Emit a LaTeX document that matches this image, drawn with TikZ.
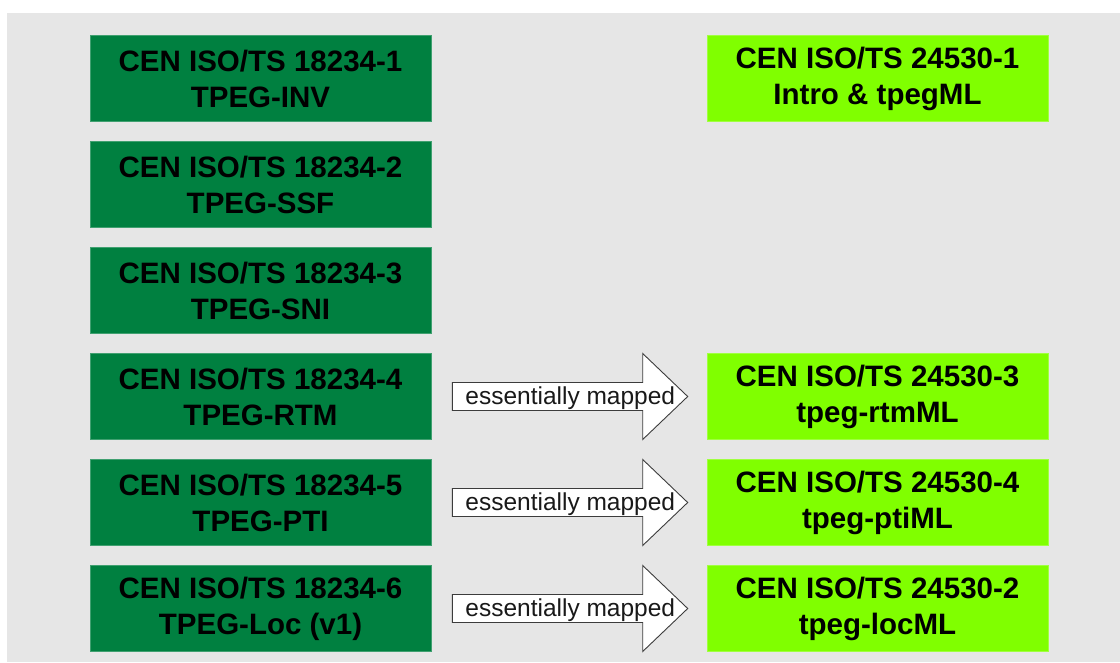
\documentclass[tikz,border=0pt]{standalone}
\usepackage{fontspec}
\setmainfont{Liberation Sans}
\usetikzlibrary{calc}
\definecolor{bggray}{RGB}{230,230,230}
\definecolor{dkgreen}{RGB}{0,128,64}
\definecolor{ltgreen}{RGB}{128,255,0}
\definecolor{arrowline}{RGB}{60,60,60}
\tikzset{
  stdbox/.style={minimum width=341pt, minimum height=86pt, inner sep=0pt, align=center,
    font=\fontsize{29.5}{36}\selectfont\bfseries, text=black},
  tsbox/.style={stdbox, fill=dkgreen, draw=dkgreen!75!white, line width=0.6pt},
  xmlbox/.style={stdbox, fill=ltgreen, draw=ltgreen!75!white, line width=0.6pt},
  maparrow/.style={fill=white, draw=arrowline, line width=0.9pt, line join=miter},
  maplabel/.style={font=\fontsize{24.5}{28}\selectfont, text=black!90, inner sep=0pt}
}
\begin{document}
\begin{tikzpicture}[x=1pt,y=-1pt]
\useasboundingbox (0,0) rectangle (1120,662);
\fill[white] (0,0) rectangle (1120,662);
\fill[bggray] (7,13) rectangle (1120,662);
% left column
\node[tsbox] (L1) at (260.5,78.5)  {CEN ISO/TS 18234-1\\TPEG-INV};
\node[tsbox] (L2) at (260.5,184.5) {CEN ISO/TS 18234-2\\TPEG-SSF};
\node[tsbox] (L3) at (260.5,290.5) {CEN ISO/TS 18234-3\\TPEG-SNI};
\node[tsbox] (L4) at (260.5,396.5) {CEN ISO/TS 18234-4\\TPEG-RTM};
\node[tsbox] (L5) at (260.5,502.5) {CEN ISO/TS 18234-5\\TPEG-PTI};
\node[tsbox] (L6) at (260.5,608.5) {CEN ISO/TS 18234-6\\TPEG-Loc (v1)};
% right column
\node[xmlbox] (r1) at (877.5,78.5)  {CEN ISO/TS 24530-1\\Intro \& tpegML};
\node[xmlbox] (r4) at (877.5,396.5) {CEN ISO/TS 24530-3\\tpeg-rtmML};
\node[xmlbox] (r5) at (877.5,502.5) {CEN ISO/TS 24530-4\\tpeg-ptiML};
\node[xmlbox] (r6) at (877.5,608.5) {CEN ISO/TS 24530-2\\tpeg-locML};
% mapping arrows
\foreach \k in {4,5,6}{
  \coordinate (s\k) at ($(L\k.east)+(21,0)$);
  \coordinate (t\k) at ($(r\k.west)+(-19,0)$);
  \draw[maparrow] ($(s\k)+(0,-14)$) -- ($(t\k)+(-45,-14)$) -- ($(t\k)+(-45,-43)$)
     -- (t\k) -- ($(t\k)+(-45,43)$) -- ($(t\k)+(-45,14)$) -- ($(s\k)+(0,14)$) -- cycle;
  \node[maplabel, anchor=base] (m\k) at ($(L\k.east)+(139,8)$) {essentially mapped};
}
\end{tikzpicture}
\end{document}
